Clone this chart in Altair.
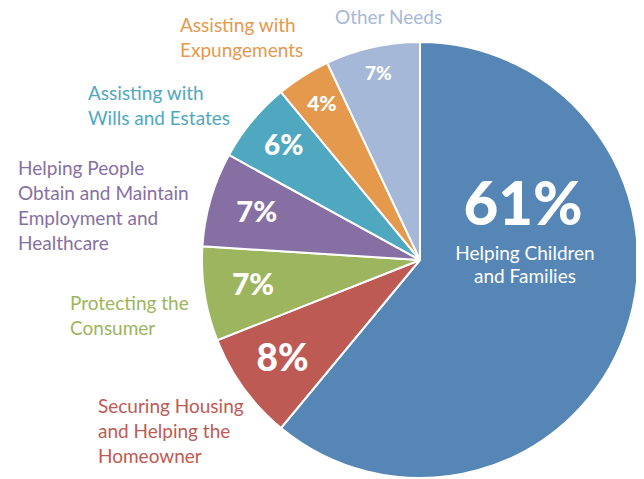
import altair as alt
import pandas as pd

categories = [
    "Helping Children and Families",
    "Securing Housing and Helping the Homeowner",
    "Protecting the Consumer",
    "Helping People Obtain and Maintain Employment and Healthcare",
    "Assisting with Wills and Estates",
    "Assisting with Expungements",
    "Other Needs",
]
values = [61, 8, 7, 7, 6, 4, 7]
colors = ["#5586B6", "#BE5A54", "#9CB55E", "#8670A3", "#4FA8BF", "#E4994D", "#A6B8D8"]

# layout / style (not data)
pct_radius = [0, 170, 169, 170, 177, 183, 191]
pct_size = [1, 37, 30, 29, 28, 21, 19]
outside_text = [
    "",
    "Securing Housing\nand Helping the\nHomeowner",
    "Protecting the\nConsumer",
    "Helping People\nObtain and Maintain\nEmployment and\nHealthcare",
    "Assisting with\nWills and Estates",
    "Assisting with\nExpungements",
    "Other Needs",
]
outside_x = [0, 90, 62, 10, 80, 172, 327]
outside_y = [0, 405, 302, 167, 92, 24, 16]

CX, CY, R = 412, 252, 218

df = pd.DataFrame({
    "cat": categories,
    "value": values,
    "idx": list(range(len(values))),
    "pct": [f"{v}%" for v in values],
    "r": pct_radius,
    "fs": pct_size,
    "otext": outside_text,
    "ox": outside_x,
    "oy": outside_y,
})

color_scale = alt.Scale(domain=categories, range=colors)

base = alt.Chart(df)

pie = base.mark_arc(outerRadius=R, stroke="white", strokeWidth=2).encode(
    theta=alt.Theta("value:Q", stack=True),
    order=alt.Order("idx:Q"),
    color=alt.Color("cat:N", scale=color_scale, legend=None),
    x=alt.value(CX),
    y=alt.value(CY),
)

pct = base.transform_joinaggregate(
    total="sum(value)"
).transform_window(
    cum="sum(value)", sort=[alt.SortField("idx")], frame=[None, 0]
).transform_calculate(
    mid="(datum.cum - datum.value / 2) / datum.total * 2 * PI",
).transform_calculate(
    px=f"{CX} + datum.r * sin(datum.mid)",
    py=f"{CY} - datum.r * cos(datum.mid)",
).transform_filter("datum.idx > 0").mark_text(
    font="Lato", fontWeight=900, color="white", baseline="middle", align="center"
).encode(
    x=alt.X("px:Q", scale=None),
    y=alt.Y("py:Q", scale=None),
    size=alt.Size("fs:Q", scale=None),
    text="pct:N",
)

big = base.transform_filter("datum.idx == 0").mark_text(
    font="Lato", fontWeight=900, color="white", fontSize=60, align="center", baseline="alphabetic"
).encode(text="pct:N", x=alt.value(515), y=alt.value(217))

big_label = base.transform_filter("datum.idx == 0").mark_text(
    font="Lato", color="white", fontSize=19, align="center", baseline="alphabetic", lineHeight=23
).encode(text=alt.value(["Helping Children", "and Families"]), x=alt.value(517), y=alt.value(252))

outside = base.transform_filter("datum.idx > 0").mark_text(
    font="Lato", fontSize=19, align="left", baseline="alphabetic", lineBreak="\n", lineHeight=25
).encode(
    text="otext:N",
    x=alt.X("ox:Q", scale=None),
    y=alt.Y("oy:Q", scale=None),
    color=alt.Color("cat:N", scale=color_scale, legend=None),
)

chart = alt.layer(pie, pct, big, big_label, outside).properties(
    width=628, height=471, padding=0, autosize="none"
).configure_view(stroke=None)

chart.save("out.html", embed_options={"renderer": "svg", "actions": False})
